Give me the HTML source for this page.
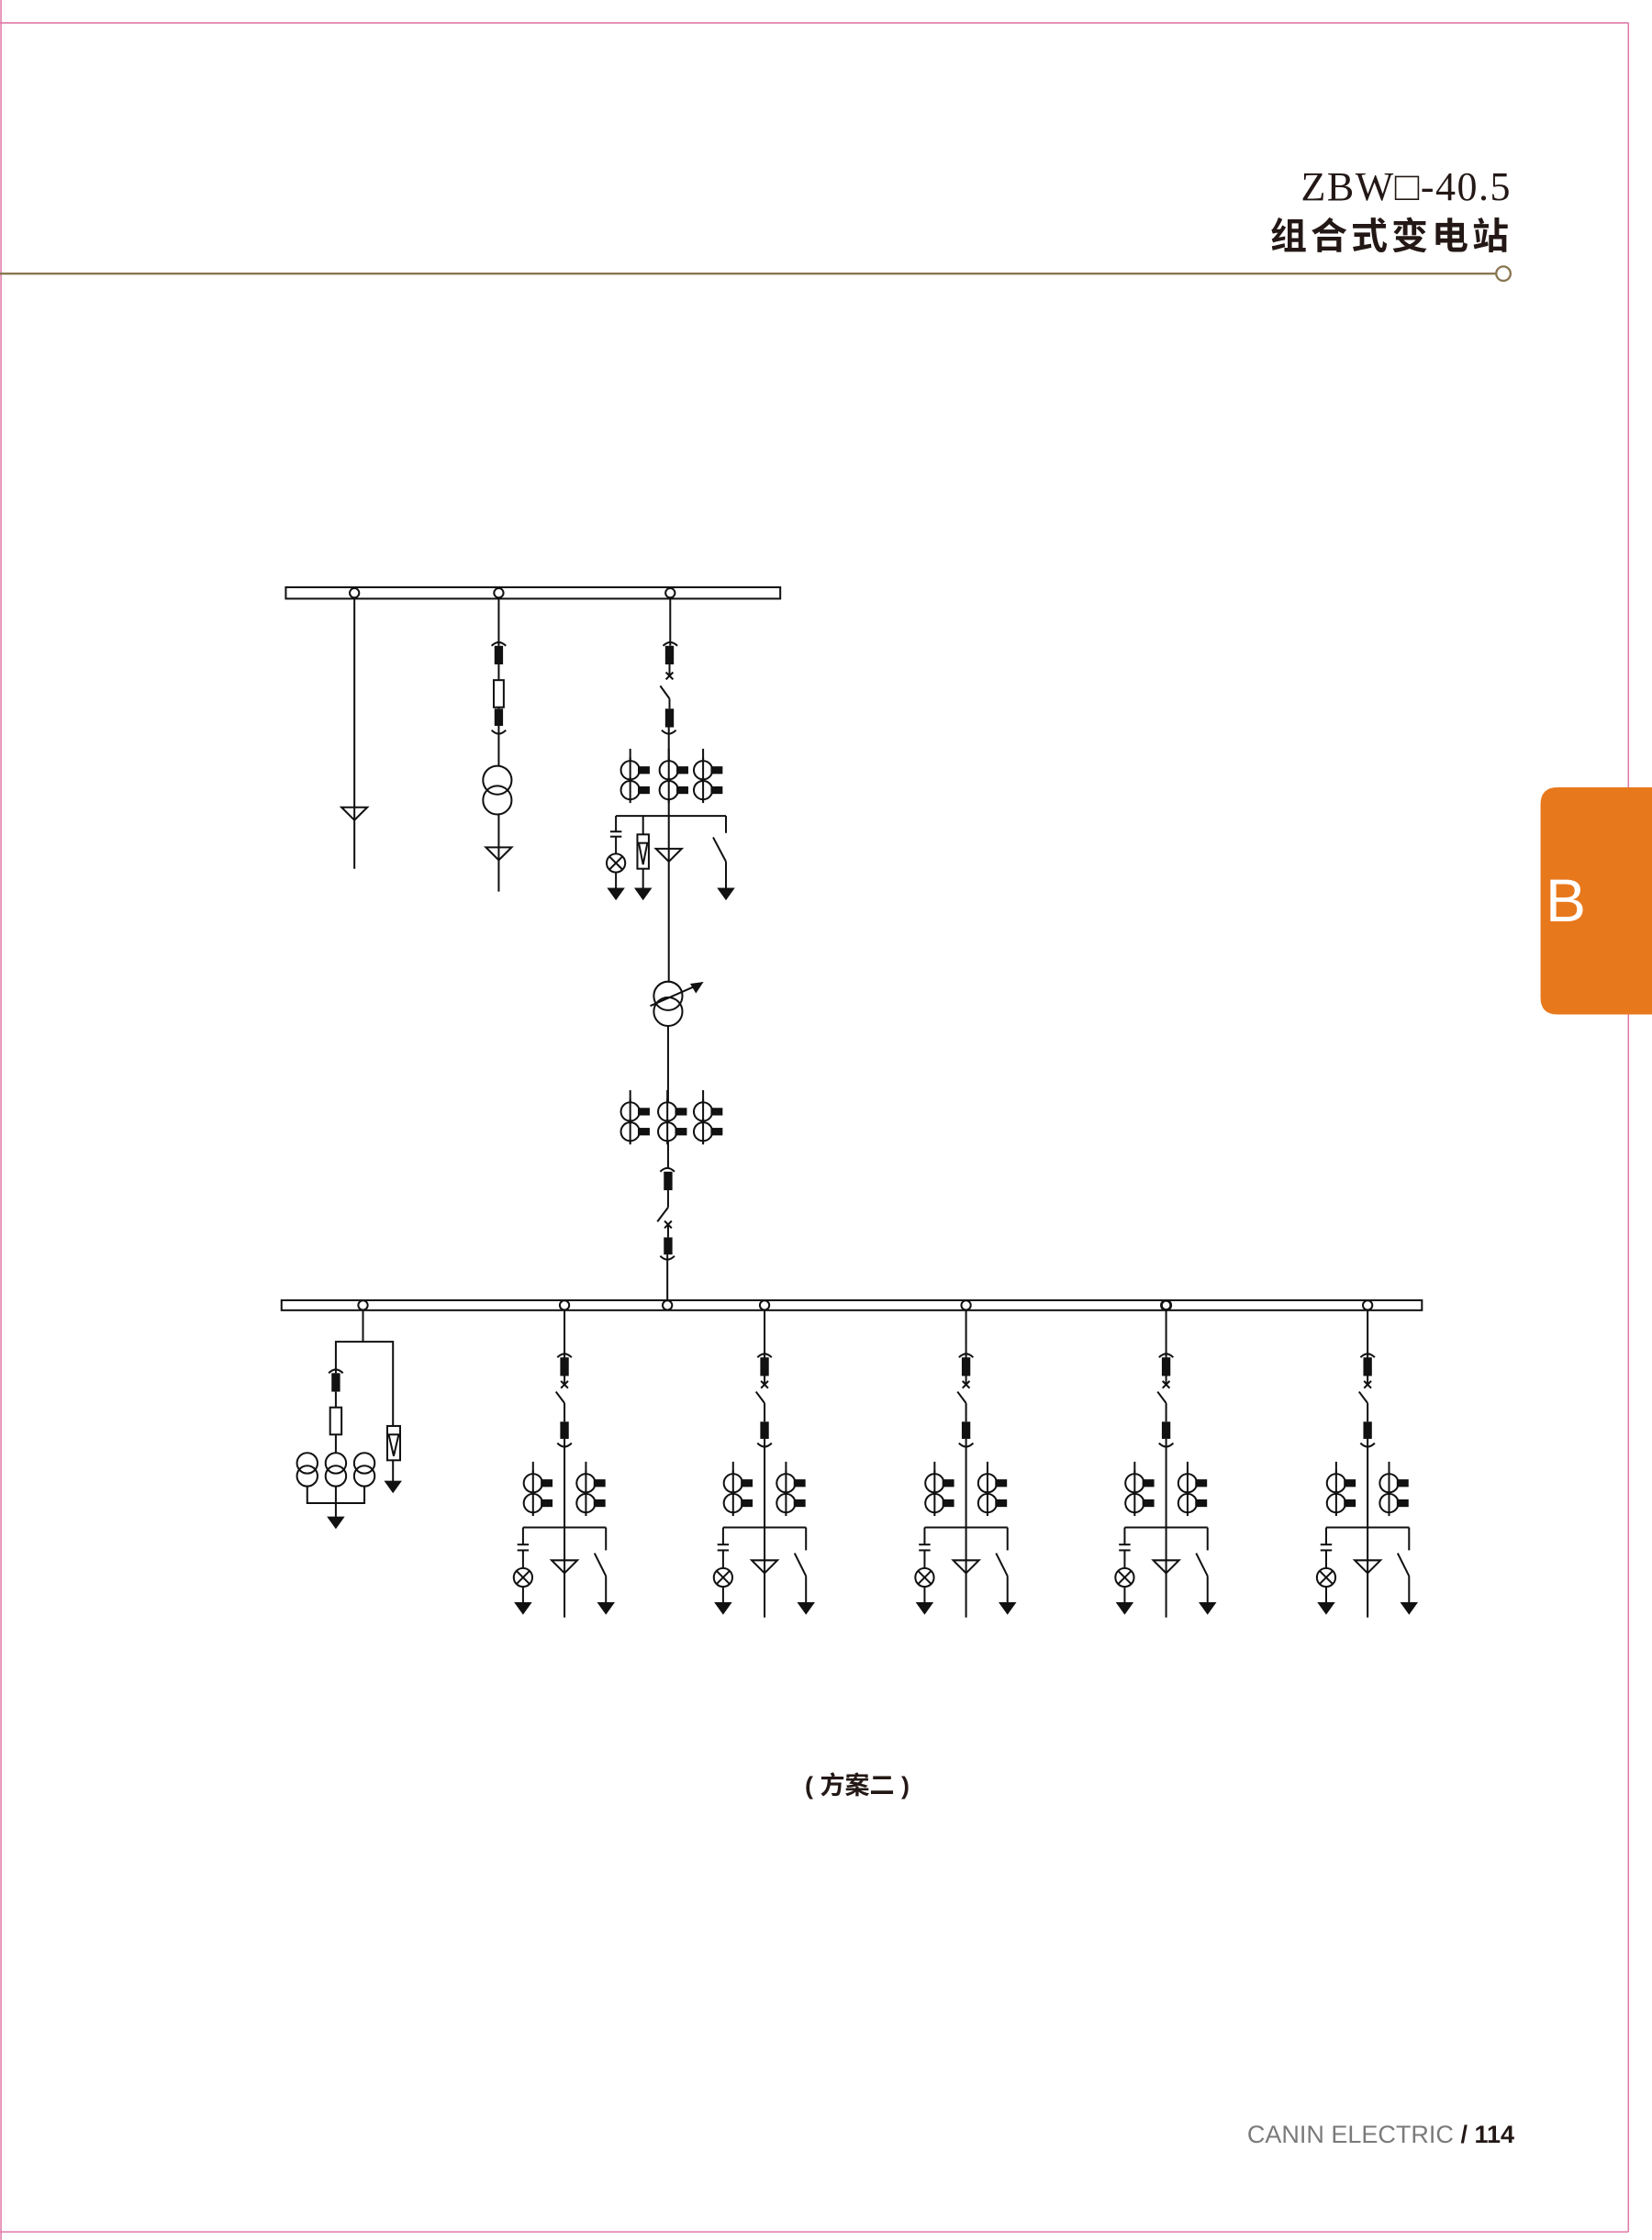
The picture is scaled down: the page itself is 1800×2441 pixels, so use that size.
<!DOCTYPE html>
<html><head><meta charset="utf-8">
<style>
html,body{margin:0;padding:0;background:#fff;}
body{width:1800px;height:2441px;position:relative;overflow:hidden;}
svg{position:absolute;left:0;top:0;}
</style></head>
<body>
<svg width="1800" height="2441" viewBox="0 0 1156 1567.7" preserveAspectRatio="none" xmlns="http://www.w3.org/2000/svg">
<defs>
<g id="ct">
  <circle cx="0" cy="0" r="6.5" fill="#fff" stroke="#111" stroke-width="1.3"/>
  <line x1="0" y1="-9" x2="0" y2="9" stroke="#111" stroke-width="1.3"/>
  <rect x="6" y="-2" width="7" height="4" fill="#111"/>
</g>
<g id="ctpair">
  <line x1="0" y1="-15" x2="0" y2="22" stroke="#111" stroke-width="1.3"/>
  <use href="#ct" x="0" y="0"/>
  <use href="#ct" x="0" y="14"/>
</g>
<g id="arrow"><polygon points="-5,0 5,0 0,7" fill="#111"/></g>
<g id="feeder" fill="none" stroke="#111" stroke-width="1.3">
  <line x1="0" y1="917" x2="0" y2="969"/>
  <path d="M-5,950 Q0,945 5,950"/>
  <rect x="-3" y="950" width="6" height="13" fill="#111" stroke="none"/>
  <line x1="-2.5" y1="966.5" x2="2.5" y2="971.5"/><line x1="2.5" y1="966.5" x2="-2.5" y2="971.5"/>
  <line x1="-6" y1="974" x2="0" y2="982"/>
  <line x1="0" y1="982" x2="0" y2="995"/>
  <rect x="-3" y="995" width="6" height="12" fill="#111" stroke="none"/>
  <path d="M-5,1010 Q0,1015 5,1010"/>
  <line x1="0" y1="1007" x2="0" y2="1132"/>
  <use href="#ctpair" x="-22" y="1038"/>
  <use href="#ctpair" x="15" y="1038"/>
  <line x1="-29" y1="1069" x2="29" y2="1069"/>
  <line x1="29" y1="1069" x2="29" y2="1085"/>
  <line x1="21" y1="1087" x2="29" y2="1103"/>
  <line x1="29" y1="1103" x2="29" y2="1122"/>
  <use href="#arrow" x="29" y="1122"/>
  <line x1="-29" y1="1069" x2="-29" y2="1081"/>
  <line x1="-33" y1="1081" x2="-25" y2="1081"/><line x1="-33" y1="1085" x2="-25" y2="1085"/>
  <line x1="-29" y1="1085" x2="-29" y2="1097"/>
  <circle cx="-29" cy="1104" r="6.5" fill="#fff"/>
  <line x1="-33.6" y1="1099.4" x2="-24.4" y2="1108.6"/><line x1="-24.4" y1="1099.4" x2="-33.6" y2="1108.6"/>
  <line x1="-29" y1="1110.5" x2="-29" y2="1122"/>
  <use href="#arrow" x="-29" y="1122"/>
  <polygon points="-9,1092 9,1092 0,1101"/>
</g>
</defs>

<line x1="0.7" y1="0" x2="0.7" y2="1568" stroke="#e07aa8" stroke-width="1"/>
<line x1="0" y1="16" x2="1139.5" y2="16" stroke="#e07aa8" stroke-width="1"/>
<line x1="1139.5" y1="16" x2="1139.5" y2="1562" stroke="#e07aa8" stroke-width="1"/>
<line x1="0" y1="1562" x2="1139.5" y2="1562" stroke="#e07aa8" stroke-width="1"/>

<line x1="0" y1="191.5" x2="1047" y2="191.5" stroke="#8a7650" stroke-width="1.5"/>
<circle cx="1052" cy="191.5" r="5" fill="#fff" stroke="#8a7650" stroke-width="1.5"/>

<path d="M1090,551 H1156 V710 H1090 Q1078,710 1078,698 V563 Q1078,551 1090,551 Z" fill="#e8781c"/>

<g fill="none" stroke="#111" stroke-width="1.3">
<rect x="200" y="411" width="346" height="8" fill="#fff"/>
<circle cx="248" cy="415" r="3.3" fill="#fff"/>
<circle cx="349" cy="415" r="3.3" fill="#fff"/>
<circle cx="469" cy="415" r="3.3" fill="#fff"/>

<line x1="248" y1="418.5" x2="248" y2="608"/>
<polygon points="239,565 257,565 248,574"/>

<line x1="349" y1="418.5" x2="349" y2="452"/>
<path d="M344,452 Q349,447 354,452"/>
<rect x="346" y="452" width="6" height="13" fill="#111" stroke="none"/>
<line x1="349" y1="465" x2="349" y2="476"/>
<rect x="345.5" y="476" width="7" height="19" fill="#fff"/>
<line x1="349" y1="495" x2="349" y2="496"/>
<rect x="346" y="496" width="6" height="12" fill="#111" stroke="none"/>
<path d="M344,511 Q349,516 354,511"/>
<line x1="349" y1="508" x2="349" y2="536"/>
<circle cx="348" cy="546" r="10" fill="none"/>
<circle cx="348" cy="560" r="10" fill="none"/>
<line x1="349" y1="570" x2="349" y2="624"/>
<polygon points="340,593 358,593 349,602"/>

<line x1="469" y1="418.5" x2="469" y2="452"/>
<path d="M464,452 Q469,447 474,452"/>
<rect x="465.5" y="452" width="6" height="13" fill="#111" stroke="none"/>
<line x1="468.5" y1="465" x2="468.5" y2="473"/>
<line x1="466" y1="470.5" x2="471" y2="475.5"/><line x1="471" y1="470.5" x2="466" y2="475.5"/>
<line x1="462" y1="480" x2="468.5" y2="489"/>
<line x1="468.5" y1="489" x2="468.5" y2="496"/>
<rect x="465.5" y="496" width="6" height="13" fill="#111" stroke="none"/>
<path d="M463,511 Q468,516 473,511"/>
<line x1="468" y1="509" x2="468" y2="687"/>
<use href="#ctpair" x="441" y="539"/>
<use href="#ctpair" x="468" y="539"/>
<use href="#ctpair" x="492" y="539"/>
<line x1="431" y1="571" x2="508" y2="571"/>
<line x1="508" y1="571" x2="508" y2="583"/>
<line x1="499" y1="586" x2="508" y2="603"/>
<line x1="508" y1="603" x2="508" y2="622"/>
<use href="#arrow" x="508" y="622"/>
<line x1="431" y1="571" x2="431" y2="582"/>
<line x1="427" y1="582" x2="435" y2="582"/><line x1="427" y1="585.5" x2="435" y2="585.5"/>
<line x1="431" y1="585.5" x2="431" y2="597.5"/>
<circle cx="431" cy="604" r="6.5" fill="#fff"/>
<line x1="426.4" y1="599.4" x2="435.6" y2="608.6"/><line x1="435.6" y1="599.4" x2="426.4" y2="608.6"/>
<line x1="431" y1="610.5" x2="431" y2="622"/>
<use href="#arrow" x="431" y="622"/>
<line x1="450" y1="571" x2="450" y2="584"/>
<rect x="446" y="584" width="8" height="24" fill="#fff"/>
<line x1="446" y1="590" x2="454" y2="590"/>
<polyline points="447,590 450,605 453,590"/>
<line x1="450" y1="608" x2="450" y2="622"/>
<use href="#arrow" x="450" y="622"/>
<polygon points="459,594 477,594 468,603"/>

<circle cx="467.5" cy="697" r="10"/>
<circle cx="467.5" cy="708" r="10"/>
<line x1="455" y1="704" x2="488" y2="689.5"/>
<polygon points="491,688 484,689 487,694" fill="#111"/>
<line x1="467.5" y1="718" x2="467.5" y2="818"/>
<use href="#ctpair" x="441" y="778"/>
<use href="#ctpair" x="467" y="778"/>
<use href="#ctpair" x="492" y="778"/>
<path d="M462,820 Q467,815 472,820"/>
<rect x="464.5" y="820" width="6" height="13" fill="#111" stroke="none"/>
<line x1="467.5" y1="833" x2="467.5" y2="845"/>
<line x1="460" y1="855" x2="467.5" y2="845"/>
<line x1="465" y1="854.5" x2="470" y2="859.5"/><line x1="470" y1="854.5" x2="465" y2="859.5"/>
<line x1="467.5" y1="857" x2="467.5" y2="866"/>
<rect x="464.5" y="866" width="6" height="12" fill="#111" stroke="none"/>
<path d="M462,879 Q467,884 472,879"/>
<line x1="467" y1="878" x2="467" y2="910"/>

<rect x="197" y="910" width="798" height="7" fill="#fff"/>
<circle cx="254" cy="913.5" r="3.3" fill="#fff"/>
<circle cx="395" cy="913.5" r="3.3" fill="#fff"/>
<circle cx="467" cy="913.5" r="3.3" fill="#fff"/>
<circle cx="535" cy="913.5" r="3.3" fill="#fff"/>
<circle cx="676" cy="913.5" r="3.3" fill="#fff"/>
<circle cx="816" cy="913.5" r="3.3" fill="#fff" stroke-width="1.8"/>
<circle cx="957" cy="913.5" r="3.3" fill="#fff"/>

<line x1="254" y1="917" x2="254" y2="939"/>
<polyline points="235,961 235,939 275,939 275,998"/>
<path d="M230,961 Q235,956 240,961"/>
<rect x="232" y="961" width="6" height="13" fill="#111" stroke="none"/>
<line x1="235" y1="974" x2="235" y2="985"/>
<rect x="231" y="985" width="8" height="19" fill="#fff"/>
<line x1="235" y1="1004" x2="235" y2="1017"/>
<circle cx="215" cy="1024" r="7.2"/><circle cx="215" cy="1033" r="7.2"/>
<circle cx="235" cy="1024" r="7.2"/><circle cx="235" cy="1033" r="7.2"/>
<circle cx="255" cy="1024" r="7.2"/><circle cx="255" cy="1033" r="7.2"/>
<polyline points="215,1040 215,1052 255,1052 255,1040"/>
<line x1="235" y1="1040" x2="235" y2="1062"/>
<use href="#arrow" x="235" y="1062"/>
<rect x="271" y="998" width="9" height="24" fill="#fff"/>
<line x1="271" y1="1004" x2="280" y2="1004"/>
<polyline points="272,1004 275.5,1019 279,1004"/>
<line x1="275" y1="1022" x2="275" y2="1037"/>
<use href="#arrow" x="275" y="1037"/>
</g>

<use href="#feeder" x="395"/>
<use href="#feeder" x="535"/>
<use href="#feeder" x="676"/>
<use href="#feeder" x="816"/>
<use href="#feeder" x="957"/>
</svg>

<div style="position:absolute;right:153px;top:182px;font-family:'Liberation Serif',serif;font-size:44px;letter-spacing:1.5px;color:#231815;line-height:1;">ZBW□-40.5</div>
<div style="position:absolute;right:152px;top:238px;font-family:'Liberation Sans','Noto Sans CJK SC',sans-serif;font-weight:bold;font-size:40px;letter-spacing:4px;color:#231815;line-height:1;">组合式变电站</div>
<div style="position:absolute;left:1680px;top:948px;width:52px;text-align:center;font-family:'Liberation Sans',sans-serif;font-size:66px;color:#fff;line-height:1;">B</div>
<div style="position:absolute;left:0;width:1868px;text-align:center;top:1924px;font-family:'Liberation Sans','Noto Sans CJK SC',sans-serif;font-weight:bold;font-size:27px;color:#231815;">(&nbsp;方案二&nbsp;)</div>
<div style="position:absolute;right:150px;top:2313px;font-family:'Liberation Sans',sans-serif;font-size:27px;color:#7a7a7a;line-height:1;white-space:nowrap;">CANIN ELECTRIC <b style="color:#231815;">/ 114</b></div>
</body></html>
